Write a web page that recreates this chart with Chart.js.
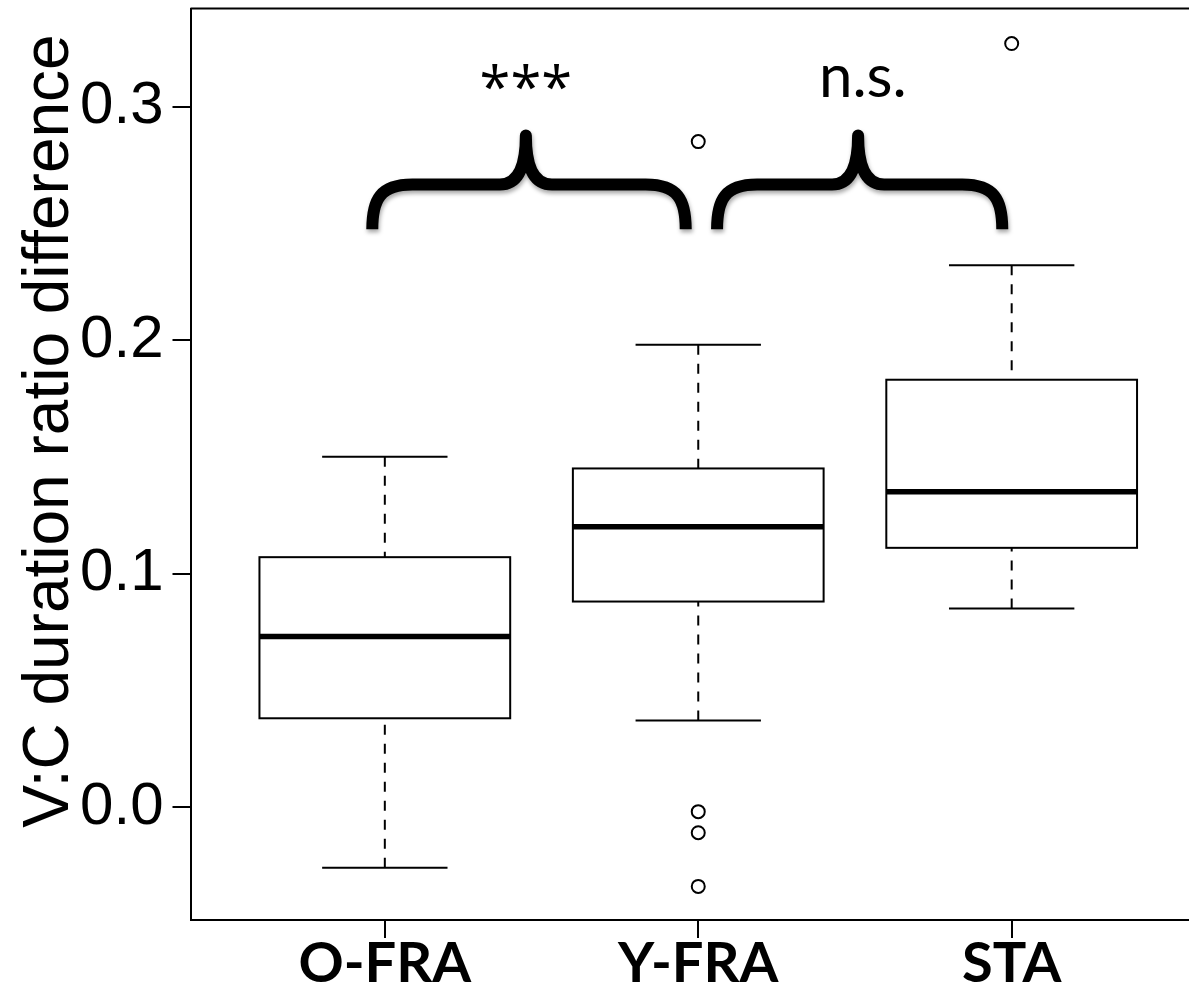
<!DOCTYPE html>
<html>
<head>
<meta charset="utf-8">
<script src="https://cdn.jsdelivr.net/npm/chart.js@4/dist/chart.umd.min.js"></script>
<style>
  html, body { margin: 0; padding: 0; background: #ffffff; overflow: hidden; }
  #wrap { width: 1230px; height: 988px; }
</style>
</head>
<body>
<div id="wrap"><canvas id="chart" width="1230" height="988"></canvas></div>
<script>
// Groups and their five-number summaries
const categories   = ['O-FRA', 'Y-FRA', 'STA'];
const whiskerLow   = [-0.026, 0.037, 0.085];
const quartile1    = [0.038, 0.088, 0.111];
const medians      = [0.073, 0.120, 0.135];
const quartile3    = [0.107, 0.145, 0.183];
const whiskerHigh  = [0.150, 0.198, 0.232];

// Outlying observations: group index (1-based) and value
const outlierGroup  = [2, 2, 2, 2, 3];
const outlierValues = [0.285, -0.002, -0.011, -0.034, 0.327];

// Y axis tick values
const yTicks = [0.0, 0.1, 0.2, 0.3];

// Significance labels between neighbouring groups
const comparisonLabels = ['***', 'n.s.'];

const yTitle = 'V:C duration ratio difference';

// Curly-brace annotations, in data units
const braces = [
  { from: 0.96, to: 1.96, tip: 1.45, labelX: 1.45, labelY: 0.3000, font: '56px "Open Sans"' },
  { from: 2.06, to: 2.97, tip: 2.51, labelX: 2.525, labelY: 0.3043, font: '60px Lato' }
];
const braceFootY = 0.2474, braceBarY = 0.2666, braceTipY = 0.2876;

const BOX_HALF = 0.4, CAP_HALF = 0.2;

const boxPlugin = {
  id: 'boxes',
  beforeDatasetsDraw(chart) {
    const { ctx, scales: { x, y }, chartArea } = chart;
    ctx.save();
    // top frame line
    ctx.strokeStyle = '#000';
    ctx.lineWidth = 2;
    ctx.beginPath();
    ctx.moveTo(chartArea.left, chartArea.top);
    ctx.lineTo(chartArea.right, chartArea.top);
    ctx.stroke();

    categories.forEach((c, i) => {
      const cx = x.getPixelForValue(i + 1);
      const bl = x.getPixelForValue(i + 1 - BOX_HALF);
      const br = x.getPixelForValue(i + 1 + BOX_HALF);
      const cl = x.getPixelForValue(i + 1 - CAP_HALF);
      const cr = x.getPixelForValue(i + 1 + CAP_HALF);
      const yLo = y.getPixelForValue(whiskerLow[i]);
      const yQ1 = y.getPixelForValue(quartile1[i]);
      const yMd = y.getPixelForValue(medians[i]);
      const yQ3 = y.getPixelForValue(quartile3[i]);
      const yHi = y.getPixelForValue(whiskerHigh[i]);

      // dashed whiskers, drawn from the whisker end toward the box
      ctx.lineWidth = 2;
      ctx.setLineDash([10, 9]);
      ctx.beginPath();
      ctx.moveTo(cx, yLo); ctx.lineTo(cx, yQ1);
      ctx.moveTo(cx, yHi); ctx.lineTo(cx, yQ3);
      ctx.stroke();
      ctx.setLineDash([]);

      // caps
      ctx.beginPath();
      ctx.moveTo(cl, yLo); ctx.lineTo(cr, yLo);
      ctx.moveTo(cl, yHi); ctx.lineTo(cr, yHi);
      ctx.stroke();

      // box
      ctx.fillStyle = '#fff';
      ctx.fillRect(bl, yQ3, br - bl, yQ1 - yQ3);
      ctx.strokeRect(bl, yQ3, br - bl, yQ1 - yQ3);

      // median
      ctx.lineWidth = 5.5;
      ctx.beginPath();
      ctx.moveTo(bl, yMd); ctx.lineTo(br, yMd);
      ctx.stroke();
    });
    ctx.restore();
  },
  afterDraw(chart) {
    const { ctx, scales: { x, y } } = chart;
    ctx.save();
    // braces with a soft drop shadow
    ctx.strokeStyle = '#000';
    ctx.lineWidth = 12;
    ctx.lineJoin = 'round';
    ctx.lineCap = 'butt';
    ctx.shadowColor = 'rgba(0,0,0,0.35)';
    ctx.shadowBlur = 4;
    ctx.shadowOffsetX = 1;
    ctx.shadowOffsetY = 3;
    const yF = y.getPixelForValue(braceFootY);
    const yB = y.getPixelForValue(braceBarY);
    const yT = y.getPixelForValue(braceTipY);
    braces.forEach(b => {
      const xl = x.getPixelForValue(b.from);
      const xr = x.getPixelForValue(b.to);
      const xt = x.getPixelForValue(b.tip);
      ctx.beginPath();
      ctx.moveTo(xl, yF);
      ctx.bezierCurveTo(xl, yF - 30, xl + 8, yB, xl + 40, yB);
      ctx.lineTo(xt - 26, yB);
      ctx.bezierCurveTo(xt - 8, yB, xt, yB - 18, xt, yT);
      ctx.bezierCurveTo(xt, yB - 18, xt + 8, yB, xt + 26, yB);
      ctx.lineTo(xr - 40, yB);
      ctx.bezierCurveTo(xr - 8, yB, xr, yF - 30, xr, yF);
      ctx.stroke();
    });
    ctx.shadowColor = 'transparent';

    // significance labels
    ctx.fillStyle = '#000';
    ctx.textAlign = 'center';
    ctx.textBaseline = 'alphabetic';
    braces.forEach((b, i) => {
      ctx.font = b.font;
      ctx.fillText(comparisonLabels[i], x.getPixelForValue(b.labelX), y.getPixelForValue(b.labelY));
    });

    // y axis title
    ctx.font = '64px "Liberation Sans"';
    ctx.translate(68, 431);
    ctx.rotate(-Math.PI / 2);
    ctx.textAlign = 'center';
    ctx.textBaseline = 'alphabetic';
    ctx.fillText(yTitle, 0, 0);
    ctx.restore();
  }
};

new Chart(document.getElementById('chart'), {
  type: 'scatter',
  data: {
    datasets: [{
      data: outlierValues.map((v, i) => ({ x: outlierGroup[i], y: v })),
      pointStyle: 'circle',
      pointRadius: 6.5,
      pointHoverRadius: 6.5,
      pointBorderWidth: 2,
      pointBorderColor: '#000',
      pointBackgroundColor: 'rgba(255,255,255,0)'
    }]
  },
  options: {
    responsive: false,
    animation: false,
    events: [],
    layout: { padding: { left: 0, right: 24, top: 6.7, bottom: 0 } },
    plugins: { legend: { display: false }, tooltip: { enabled: false } },
    scales: {
      x: {
        type: 'linear',
        min: 0.38,
        max: 3.62,
        afterFit(scale) { scale.height = 68; scale.paddingLeft = 0; scale.paddingRight = 0; },
        afterBuildTicks(scale) { scale.ticks = categories.map((c, i) => ({ value: i + 1 })); },
        border: { display: true, color: '#000', width: 2 },
        grid: { display: true, drawOnChartArea: false, drawTicks: true, tickLength: 18, color: '#000', lineWidth: 2 },
        ticks: {
          color: '#000',
          padding: -2,
          maxRotation: 0,
          autoSkip: false,
          font: { family: 'Lato', weight: 'bold', size: 56, lineHeight: 1 },
          callback: (v) => categories[v - 1]
        }
      },
      y: {
        min: -0.0484,
        max: 0.3420,
        afterFit(scale) { scale.width = 190.5; scale.paddingTop = 0; scale.paddingBottom = 0; },
        afterBuildTicks(scale) { scale.ticks = yTicks.map(v => ({ value: v })); },
        border: { display: true, color: '#000', width: 2 },
        grid: { display: true, drawOnChartArea: false, drawTicks: true, tickLength: 18, color: '#000', lineWidth: 2 },
        ticks: {
          color: '#000',
          padding: 9,
          font: { family: 'Liberation Sans', size: 60 },
          callback: (v) => Number(v).toFixed(1)
        }
      }
    }
  },
  plugins: [boxPlugin]
});
</script>
</body>
</html>
